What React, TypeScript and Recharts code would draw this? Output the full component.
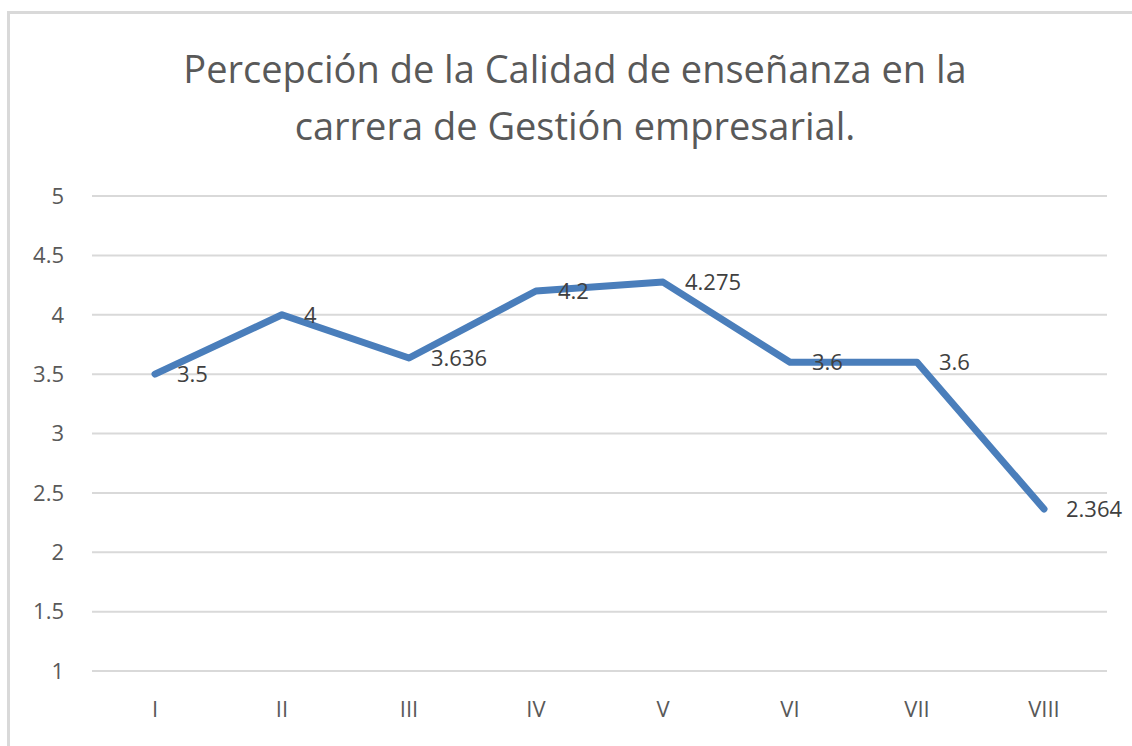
import React from 'react';
import { LineChart, Line, XAxis, YAxis, CartesianGrid, LabelList } from 'recharts';

const semestres = ['I', 'II', 'III', 'IV', 'V', 'VI', 'VII', 'VIII'];
const calidad = [3.5, 4, 3.636, 4.2, 4.275, 3.6, 3.6, 2.364];
const yTicks = [1, 1.5, 2, 2.5, 3, 3.5, 4, 4.5, 5];

const tituloLineas = [
  'Percepción de la Calidad de enseñanza en la',
  'carrera de Gestión empresarial.',
];

const data = semestres.map((s, i) => ({ name: s, valor: calidad[i] }));

const FONT = '"Open Sans", "Noto Sans", sans-serif';

const App: React.FC = () => {
  return (
    <div style={{ position: 'absolute', left: 0, top: 0, width: 1132, height: 746, overflow: 'hidden', background: '#fff', fontFamily: FONT }}>
      <div style={{ position: 'absolute', left: 7, top: 11, width: 1136, height: 760, border: '3px solid #d9d9d9', boxSizing: 'border-box' }} />
      <div style={{ position: 'absolute', left: 7, top: 40, width: 1136, textAlign: 'center', color: '#595959', fontSize: 38, lineHeight: '57px' }}>
        {tituloLineas.map(t => <div key={t}>{t}</div>)}
      </div>
      <div style={{ position: 'absolute', left: 0, top: 0 }}>
        <LineChart width={1132} height={746} data={data} margin={{ top: 196, right: 25, bottom: 0, left: 0 }}>
          <CartesianGrid vertical={false} stroke="#d9d9d9" strokeWidth={2} />
          <XAxis dataKey="name" axisLine={false} tickLine={false} tickSize={0} tickMargin={30} height={75}
            padding={{ left: 63, right: 63 }}
            tick={{ fill: '#595959', fontSize: 22, fontFamily: FONT }} />
          <YAxis domain={[1, 5]} ticks={yTicks} axisLine={false} tickLine={false} tickSize={0} tickMargin={28} width={92}
            tick={{ fill: '#595959', fontSize: 22, fontFamily: FONT }} />
          <Line type="linear" dataKey="valor" stroke="#4a7ebb" strokeWidth={7} strokeLinecap="round" strokeLinejoin="round" dot={false} isAnimationActive={false}>
            <LabelList dataKey="valor" position="right" offset={22} fill="#404040" fontSize={22} fontFamily={FONT} />
          </Line>
        </LineChart>
      </div>
    </div>
  );
};

export default App;
